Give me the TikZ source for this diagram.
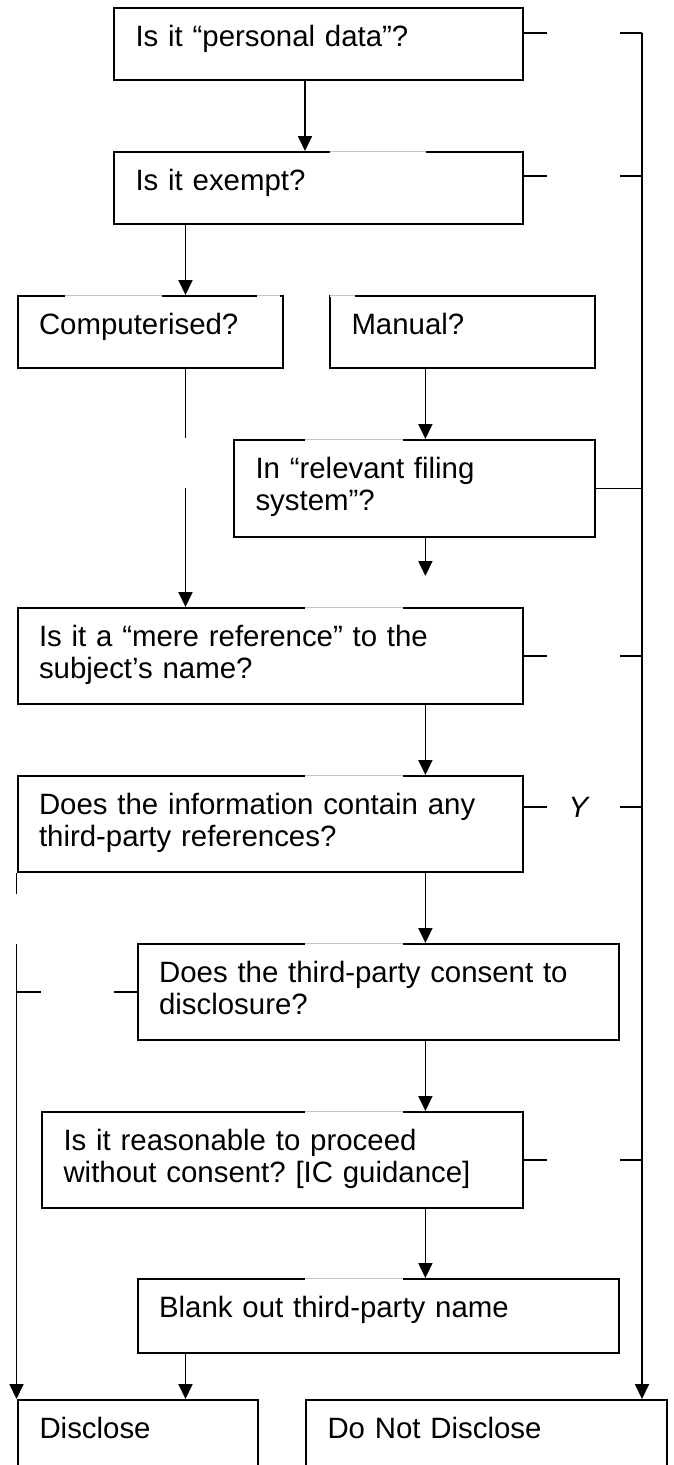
\documentclass[tikz,border=0pt]{standalone}
\usepackage{fontspec}
\setmainfont{Liberation Sans}
\usetikzlibrary{arrows.meta}
\frenchspacing

\tikzset{
  box/.style={draw, line width=2pt, anchor=north west, inner xsep=21.5pt, inner ysep=0pt,
    align=left, text height=38pt, font=\fontsize{29.4}{32}\selectfont},
  arr/.style={line width=1.8pt, -{Triangle[length=15pt,width=14pt]}},
  link/.style={line width=1.8pt},
  stub/.style={line width=1.8pt, dash pattern=on 23pt off 73pt on 60pt off 1pt},
  veil/.style={white, line width=3pt, postaction={draw=black!22, line width=.6pt}},
  hole/.style={white, line width=3pt},
  ylab/.style={font=\fontsize{29.4}{32}\selectfont\itshape, inner sep=0pt}
}

\begin{document}
\begin{tikzpicture}[x=1pt,y=-1pt]
	\useasboundingbox (0,0) rectangle (673,1465);
	\clip (0,0) rectangle (673,1465);

	% columns of the vertical links
	\coordinate (cA) at (185.5,0);
	\coordinate (cB) at (305,0);
	\coordinate (cC) at (425.4,0);
	\coordinate (busL) at (16.5,0);
	\coordinate (busR) at (642,0);

	% question boxes
	\node[box, text width=366pt, text depth=34pt] (pd) at (113,7) {Is it “personal data”?};
	\node[box, text width=366pt, text depth=34pt] (ex) at (113,151) {Is it exempt?};
	\node[box, text width=222pt, text depth=34pt] (comp) at (16.5,295) {Computerised?};
	\node[box, text width=222pt, text depth=34pt] (man) at (329,295) {Manual?};
	\node[box, text width=318pt, text depth=59pt] (rfs) at (233,439) {In “relevant filing\\system”?};
	\node[box, text width=462.5pt, text depth=58pt] (mere) at (16.5,607) {Is it a “mere reference” to the\\subject’s name?};
	\node[box, text width=462.5pt, text depth=58pt] (info) at (16.5,775) {Does the information contain any\\third-party references?};
	\node[box, text width=438.4pt, text depth=58pt] (cons) at (136.6,943) {Does the third-party consent to\\disclosure?};
	\node[box, text width=438pt, text depth=58pt] (reas) at (41,1111) {Is it reasonable to proceed\\without consent? [IC guidance]};
	\node[box, text width=438.4pt, text depth=36pt] (blank) at (136.6,1278) {Blank out third-party name};

	% outcomes
	\node[box, text width=197pt, text depth=60pt] (disc) at (17,1399) {Disclose};
	\node[box, text width=318pt, text depth=60pt] (nodisc) at (305,1399) {Do Not Disclose};

	% main flow
	\draw[arr] (pd.south -| cB) -- (ex.north -| cB);
	\draw[arr] (ex.south -| cA) -- (comp.north -| cA);
	\draw[arr] (comp.south -| cA) -- (mere.north -| cA);
	\draw[arr] (man.south -| cC) -- (rfs.north -| cC);
	\coordinate (rfsend) at (425.4,576);
	\draw[arr] (rfs.south -| cC) -- (rfsend);
	\draw[arr] (mere.south -| cC) -- (info.north -| cC);
	\draw[arr] (info.south -| cC) -- (cons.north -| cC);
	\draw[arr] (cons.south -| cC) -- (reas.north -| cC);
	\draw[arr] (reas.south -| cC) -- (blank.north -| cC);
	\draw[arr] (blank.south -| cA) -- (disc.north -| cA);

	% left line to Disclose
	\draw[arr] (info.south west) -- (disc.north -| info.south west);
	\draw[stub] (cons.west) -- (busL |- cons.west);

	% right line to Do Not Disclose
	\coordinate (pdR) at ([yshift=11.3pt]pd.east);
	\coordinate (exR) at ([yshift=12pt]ex.east);
	\coordinate (infoR) at ([yshift=17pt]info.east);
	\draw[arr] (busR |- pdR) -- (nodisc.north -| busR);
	\draw[stub] (pdR) -- (busR |- pdR);
	\draw[stub] (exR) -- (busR |- exR);
	\draw[link] (rfs.east) -- (busR |- rfs.east);
	\draw[stub] (mere.east) -- (busR |- mere.east);
	\draw[stub] (infoR) -- node[ylab, xshift=-4.5pt] {Y} (busR |- infoR);
	\draw[stub] (reas.east) -- (busR |- reas.east);

	% faint breaks in the lines
	\foreach \b in {rfs,mere,info,cons,reas,blank}
		\draw[veil] (\b.north -| cB) -- ++(97.6,0);
	\draw[veil] (329.6,151) -- (426,151);
	\draw[veil] (64.5,295) -- (162.4,295);
	\draw[veil] (257,295) -- (280,295);
	\draw[veil] (330,295) -- (354.5,295);
	\draw[hole] (185.5,438) -- (185.5,488);
	\draw[hole] (16.5,894) -- (16.5,944);
\end{tikzpicture}
\end{document}
